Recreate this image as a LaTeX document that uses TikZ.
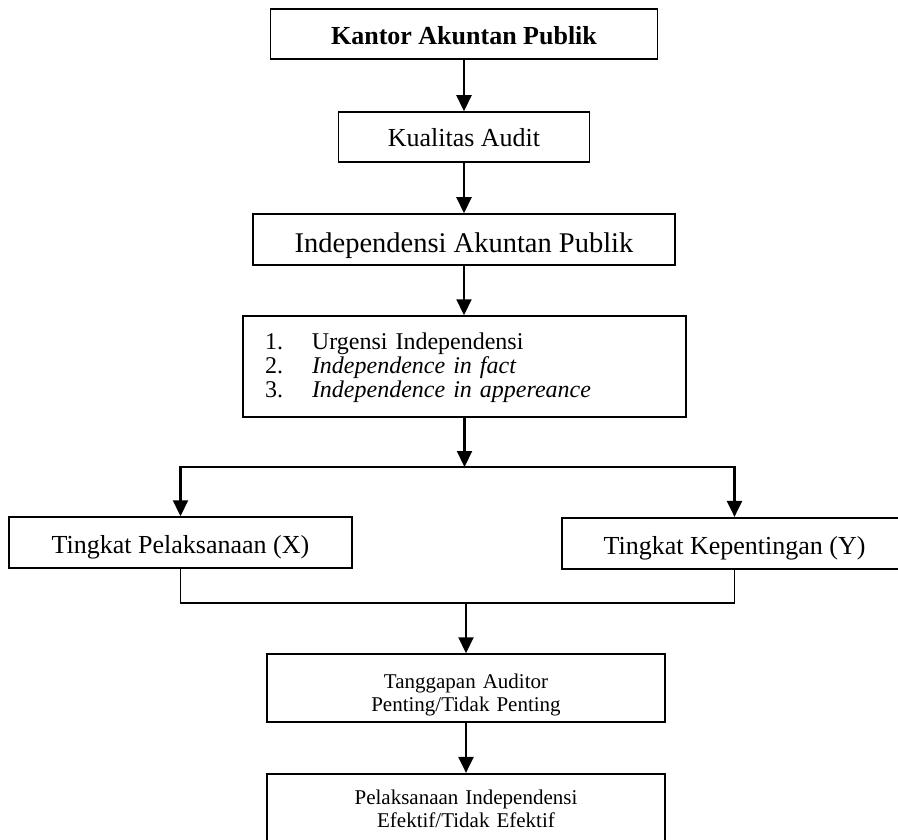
\documentclass[tikz,border=0pt]{standalone}
\usepackage{fontspec}
\setmainfont{Liberation Serif}
\usetikzlibrary{arrows.meta}

\begin{document}
\begin{tikzpicture}[x=1pt, y=-1pt,
    block/.style ={draw, line width=1.5pt, inner sep=0pt, align=center},
    flow/.style ={line width=2.2pt, -{Triangle[width=15pt,length=16pt]}},
    joint/.style ={line width=1.6pt}]
   \useasboundingbox (0,0) rectangle (898,840);
   \clip (0,0) rectangle (898,840);

   \node[block, minimum width=387pt, minimum height=50pt, text height=22pt, text depth=0pt,
         font=\fontsize{26}{28}\selectfont\bfseries] (kap) at (464,34) {Kantor Akuntan Publik};
   \node[block, minimum width=251pt, minimum height=50pt, text height=20pt, text depth=0pt,
         font=\fontsize{26}{28}\selectfont] (kual) at (464,137) {Kualitas Audit};
   \node[block, minimum width=422pt, minimum height=51pt, text height=27pt, text depth=0pt,
         font=\fontsize{28.5}{30}\selectfont] (ind) at (464,239.5) {Independensi Akuntan Publik};
   \node[block, minimum width=443pt, minimum height=101pt, text width=399pt, align=left,
         text height=18pt, text depth=53pt, font=\fontsize{24}{24}\selectfont] (list) at (464.5,366.5)
     {\makebox[47pt][l]{1.}Urgensi Independensi\\
      \makebox[47pt][l]{2.}\textit{Independence in fact}\\
      \makebox[47pt][l]{3.}\textit{Independence in appereance}};

   \coordinate (split) at (464.5,467);

   \node[block, minimum width=343pt, minimum height=51pt, text height=21pt, text depth=0pt,
         font=\fontsize{26}{28}\selectfont] (pel) at (180.5,542.5) {Tingkat Pelaksanaan (X)};
   \node[block, line width=2.2pt, minimum width=345pt, minimum height=51pt, text height=21pt, text depth=0pt,
         font=\fontsize{26}{28}\selectfont] (kep) at (734.5,543.5) {Tingkat Kepentingan (Y)};

   \coordinate (merge) at (466,603);

   \node[block, minimum width=398pt, minimum height=68pt, text width=398pt,
         text height=20pt, text depth=20pt, font=\fontsize{21}{23}\selectfont] (tang) at (466,688)
     {Tanggapan Auditor\\Penting/Tidak Penting};
   \node[block, line width=2.2pt, minimum width=398pt, minimum height=96pt, text width=398pt,
         text height=10pt, text depth=46pt, font=\fontsize{21}{23}\selectfont] (efek) at (466,822)
     {Pelaksanaan Independensi\\Efektif/Tidak Efektif};

   \draw[flow] (kap) -- (kual);
   \draw[flow] (kual) -- (ind);
   \draw[flow] (ind) -- (list.north -| ind);
   \draw[flow] (list) -- (split);

   \draw[flow] (split) -| (pel);
   \draw[flow] (split) -| (kep);

   \draw[joint] (pel) |- (merge) -| (kep);
   \draw[flow] (merge) -- (tang);
   \draw[flow] (tang) -- (efek);

 \end{tikzpicture}
\end{document}
